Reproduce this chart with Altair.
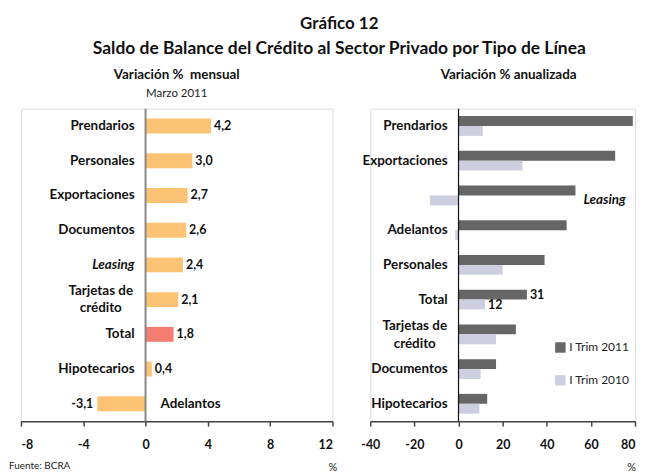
import altair as alt
import pandas as pd

FONT = "Lato"

# ---- Left panel data: monthly % change, March 2011
cat_m = ["Prendarios", "Personales", "Exportaciones", "Documentos", "Leasing",
         "Tarjetas de\ncrédito", "Total", "Hipotecarios", "Adelantos"]
val_m = [4.2, 3.0, 2.7, 2.6, 2.4, 2.1, 1.8, 0.4, -3.1]
ticks_m = [-8, -4, 0, 4, 8, 12]

# ---- Right panel data: annualized % change
cat_a = ["Prendarios", "Exportaciones", "Leasing", "Adelantos", "Personales",
         "Total", "Tarjetas de\ncrédito", "Documentos", "Hipotecarios"]
val_2011 = [79, 71, 53, 49, 39, 31, 26, 17, 13]
val_2010 = [11, 29, -13, -1.5, 20, 12, 17, 10, 9.5]
series = ["I Trim 2011", "I Trim 2010"]
ticks_a = [-40, -20, 0, 20, 40, 60, 80]

ORANGE = "#FBC373"
RED = "#F47D72"
DARK = "#666666"
LIGHT = "#CDCFE0"
TXT = "#111111"

W1, H1 = 313, 314
W2, H2 = 266, 314

LAB = 13.5
VAL = 12.5
TICK = 12.5
HYPHEN = "datum.value < 0 ? '-' + abs(datum.value) : '' + datum.value"


def x_axis(values, w, align=None):
    kw = dict(values=values, title="%", grid=False, labelExpr=HYPHEN,
              labelFont=FONT, labelFontWeight="bold", labelFontSize=TICK,
              labelColor=TXT, labelPadding=12,
              domainColor="#444", domainWidth=1.5, tickColor="#444",
              tickWidth=1.5, tickSize=5,
              titleFont=FONT, titleFontWeight="normal", titleFontSize=11,
              titleX=w, titleY=47, titleAlign="center", titleBaseline="middle",
              titleColor="#222")
    if align is not None:
        kw["labelAlign"] = align
    return alt.Axis(**kw)


df_m = pd.DataFrame({"cat": cat_m, "val": val_m})
df_m["lab"] = [f"{v:.1f}".replace(".", ",") for v in val_m]

ym = alt.Y("cat:N", sort=cat_m, axis=None,
           scale=alt.Scale(paddingInner=0.57, paddingOuter=0.285))
xm = alt.X("val:Q", scale=alt.Scale(domain=[-8, 12], nice=False),
           axis=x_axis(ticks_m, W1))

base_m = alt.Chart(df_m)
bars_m = base_m.mark_bar().encode(
    y=ym, x=xm,
    color=alt.condition(alt.datum.cat == "Total", alt.value(RED), alt.value(ORANGE)))
zero_m = alt.Chart(pd.DataFrame({"z": [0]})).mark_rule(color="#888", strokeWidth=2).encode(x="z:Q")
vpos = base_m.transform_filter("datum.val >= 0").mark_text(
    align="left", dx=3, font=FONT, fontWeight="bold", fontSize=VAL, color=TXT).encode(
    y=ym, x=xm, text="lab:N")
vneg = base_m.transform_filter("datum.val < 0").mark_text(
    align="right", dx=-4, font=FONT, fontWeight="bold", fontSize=VAL, color=TXT).encode(
    y=ym, x=xm, text="lab:N")
lab_plain = base_m.transform_filter(
    "datum.val >= 0 && datum.cat != 'Leasing' && indexof(datum.cat, '\\n') < 0").mark_text(
    align="right", dx=-11, font=FONT, fontWeight="bold", fontSize=LAB, color=TXT).encode(
    y=ym, x=alt.datum(0), text="cat:N")
lab_it = base_m.transform_filter("datum.cat == 'Leasing'").mark_text(
    align="right", dx=-11, font=FONT, fontWeight="bold", fontStyle="italic", fontSize=LAB,
    color=TXT).encode(y=ym, x=alt.datum(0), text="cat:N")
lab_ml = base_m.transform_filter("indexof(datum.cat, '\\n') >= 0").mark_text(
    align="center", dx=-45, dy=-8.5, lineBreak="\n", lineHeight=17, font=FONT,
    fontWeight="bold", fontSize=LAB, color=TXT).encode(y=ym, x=alt.datum(0), text="cat:N")
lab_neg = base_m.transform_filter("datum.val < 0").mark_text(
    align="left", dx=15, font=FONT, fontWeight="bold", fontSize=LAB, color=TXT).encode(
    y=ym, x=alt.datum(0), text="cat:N")
fuente = alt.Chart(pd.DataFrame({"t": ["Fuente: BCRA"]})).mark_text(
    align="left", baseline="middle", font=FONT, fontSize=10, color="#222").encode(
    x=alt.value(-12), y=alt.value(H1 + 45), text="t:N")

left = alt.layer(bars_m, zero_m, vpos, vneg, lab_plain, lab_it, lab_ml, lab_neg, fuente).properties(
    width=W1, height=H1,
    title=alt.TitleParams("Variación %\u00a0 mensual", subtitle="Marzo 2011", font=FONT,
                          fontSize=13.5, fontWeight="bold", subtitleFont=FONT,
                          subtitleFontSize=11.5, subtitleColor="#222", subtitlePadding=7,
                          offset=8, anchor="middle", color=TXT))

# ---- Right panel
rows = []
for c, a, b in zip(cat_a, val_2011, val_2010):
    rows.append({"cat": c, "serie": series[0], "val": a})
    rows.append({"cat": c, "serie": series[1], "val": b})
df_a = pd.DataFrame(rows)
df_a["lab"] = [str(int(round(v))) for v in df_a["val"]]

ya = alt.Y("cat:N", sort=cat_a, axis=None,
           scale=alt.Scale(paddingInner=0.43, paddingOuter=0.215))
yo = alt.YOffset("serie:N", sort=series, scale=alt.Scale(domain=series))
xa = alt.X("val:Q", scale=alt.Scale(domain=[-40, 80], nice=False),
           axis=x_axis(ticks_a, W2 - 4,
                       align={"condition": {"test": "datum.value == 80", "value": "right"},
                              "value": "center"}))
base_a = alt.Chart(df_a)
bars_a = base_a.mark_bar().encode(
    y=ya, yOffset=yo, x=xa,
    color=alt.Color("serie:N", sort=series,
                    scale=alt.Scale(domain=series, range=[DARK, LIGHT]),
                    legend=alt.Legend(title=None, orient="none", legendX=536, legendY=234,
                                      symbolType="square", symbolSize=110,
                                      symbolStrokeWidth=0, labelFont=FONT,
                                      labelFontSize=12, labelColor="#222",
                                      rowPadding=21, labelOffset=3)))
zero_a = alt.Chart(pd.DataFrame({"z": [0]})).mark_rule(color=TXT, strokeWidth=1.2).encode(x="z:Q")
tot = base_a.transform_filter("datum.cat == 'Total'").mark_text(
    align="left", dx=3, font=FONT, fontWeight="bold", fontSize=VAL, color=TXT).encode(
    y=ya, yOffset=yo, x=xa, text="lab:N")
cats_a = base_a.transform_filter("datum.serie == 'I Trim 2011'")
lab_a_plain = cats_a.transform_filter(
    "datum.cat != 'Leasing' && indexof(datum.cat, '\\n') < 0").mark_text(
    align="right", dx=-11, font=FONT, fontWeight="bold", fontSize=LAB, color=TXT).encode(
    y=ya, x=alt.datum(0), text="cat:N")
lab_a_ml = cats_a.transform_filter("indexof(datum.cat, '\\n') >= 0").mark_text(
    align="center", dx=-44, dy=-8.5, lineBreak="\n", lineHeight=18, font=FONT,
    fontWeight="bold", fontSize=LAB, color=TXT).encode(y=ya, x=alt.datum(0), text="cat:N")
lab_a_it = cats_a.transform_filter("datum.cat == 'Leasing'").mark_text(
    align="left", dx=8, dy=5, font=FONT, fontWeight="bold", fontStyle="italic", fontSize=LAB,
    color=TXT).encode(y=ya, x=xa, text="cat:N")

right = alt.layer(bars_a, zero_a, tot, lab_a_plain, lab_a_ml, lab_a_it).properties(
    width=W2, height=H2,
    title=alt.TitleParams("Variación % anualizada", font=FONT, fontSize=13.5,
                          fontWeight="bold", offset=27, anchor="middle", dx=6,
                          color=TXT))

chart = alt.hconcat(left, right, spacing=38, bounds="flush").properties(
    padding={"left": 0, "top": 5, "right": 0, "bottom": 0},
    title=alt.TitleParams("Gráfico 12",
                          subtitle="Saldo de Balance del Crédito al Sector Privado por Tipo de Línea",
                          font=FONT, fontSize=17, fontWeight="bold", color=TXT,
                          subtitleFont=FONT, subtitleFontSize=17.5, subtitleFontWeight="bold",
                          subtitleColor=TXT, subtitlePadding=7, anchor="middle", offset=9,
                          dx=17)
).configure_view(stroke=None).configure(background="white")

chart.save("out.html", embed_options={"renderer": "svg", "actions": False})
